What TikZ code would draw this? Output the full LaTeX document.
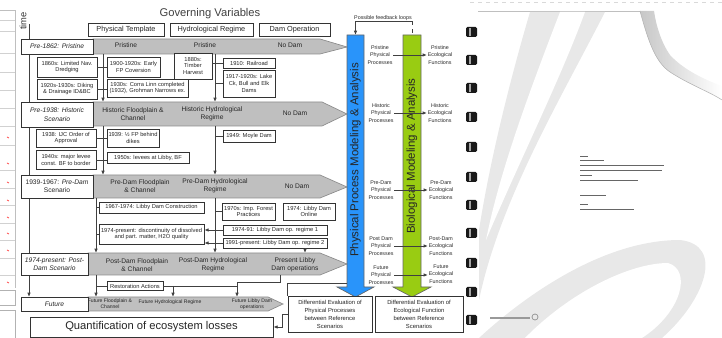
\documentclass[tikz,border=0pt]{standalone}
\usepackage{fontspec}
\setmainfont{Liberation Sans}
\usetikzlibrary{arrows.meta}
\newdimen\px \px=0.75pt
\definecolor{bandgray}{RGB}{191,191,191}
\definecolor{procblue}{RGB}{41,148,250}
\definecolor{biogreen}{RGB}{153,204,18}
\tikzset{
  sz/.style 2 args={minimum width=#1\px,minimum height=#2\px},
  evbox/.style={draw=black!80,fill=white,line width=0.5pt,inner sep=0pt,align=center,text=black!85,font=\fontsize{4.3}{5.1}\selectfont},
  scbox/.style={draw=black!80,fill=white,line width=0.6pt,inner sep=0pt,align=center,text=black!85,font=\fontsize{5}{6.2}\selectfont},
  hdrbox/.style={draw=black!80,fill=white,line width=0.6pt,inner sep=0pt,align=center,text=black!85,font=\fontsize{5.5}{6.5}\selectfont},
  band/.style={fill=bandgray,draw=black!45,line width=0.5pt},
  bandlbl/.style={inner sep=0pt,align=center,text=black!85,font=\fontsize{5}{6}\selectfont},
  futlbl/.style={inner sep=0pt,align=center,text=black!85,font=\fontsize{3.8}{4.6}\selectfont},
  fnlbl/.style={inner sep=0.5pt,align=center,text=black!85,font=\fontsize{4}{5.6}\selectfont},
  difbox/.style={draw=black!80,fill=white,line width=0.6pt,inner sep=0pt,align=center,text=black!85,font=\fontsize{4.4}{6}\selectfont},
  spine/.style={draw=black!75,line width=0.6pt},
  arr/.style={-{Latex[length=3.2pt,width=2.6pt]}},
  procbar/.style={fill=procblue,draw=black!60,line width=0.5pt},
  biobar/.style={fill=biogreen,draw=black!60,line width=0.5pt},
  bartxt/.style={inner sep=0pt,text=black!85,font=\fontsize{8.6}{9}\selectfont},
}
\begin{document}
\begin{tikzpicture}[x=0.75pt,y=0.75pt,yscale=-1]
\useasboundingbox (0,0) rectangle (722,338);

% Left sheet (cut off)
\draw[black!25,line width=0.4pt] (0,10) -- (15,10) -- (15,288);
\foreach \yy in {20,31,53,72,90,108,126,145,170,188,205,223,240,258,275}
  \draw[black!18,line width=0.4pt] (0,\yy) -- (15,\yy);
\foreach \yy in {137,163,182,200,217,233,250,282}
  \draw[red!70,line width=0.6pt] (7,\yy) -- (9,\yy+1);
\draw[black!30,line width=0.4pt] (0,290) -- (15,290) -- (15,305) -- (0,305);
\draw[black!30,line width=0.4pt] (0,310) -- (15,310) -- (15,338);

% Right page with binding
\draw[black!15,dashed,line width=0.4pt] (470,2) -- (722,2);
\draw[black!25,line width=0.5pt] (478,11) -- (640,11);
\fill[black!9] (530,12) .. controls (510,80) and (490,160) .. (479,230) -- (479,300) .. controls (500,200) and (560,100) .. (605,12) -- cycle;
\fill[white] (560,12) .. controls (530,90) and (500,170) .. (486,240) .. controls (520,160) and (560,80) .. (585,12) -- cycle;
\fill[black!9] (479,338) .. controls (520,300) and (600,240) .. (680,240) .. controls (725,245) and (705,300) .. (662,338) -- cycle;
\fill[white] (525,338) .. controls (570,292) and (630,263) .. (668,263) .. controls (692,270) and (682,312) .. (642,338) -- cycle;
\shade[left color=black!22,right color=white] (640,11) .. controls (648,40) and (655,62) .. (670,72) .. controls (690,85) and (710,92) .. (722,100) -- (722,86) .. controls (700,78) and (682,68) .. (670,55) .. controls (661,42) and (656,25) .. (654,11) -- cycle;
\draw[black!30,line width=0.4pt] (640,11) .. controls (648,40) and (655,62) .. (670,72) .. controls (690,85) and (710,92) .. (722,100);
\foreach \yy in {32,60,88,117,147,177,205,233,263,292,320} {
  \fill[black!90,rounded corners=1pt] (466,\yy-5) rectangle (477,\yy+5);
  \fill[black!35] (469,\yy-4) rectangle (470.5,\yy+4);
}
\foreach \yy/\xe in {156/588,160/604,165/664,170/662,175/592,180/638,195/606,204/588,209/634}
  \fill[black!60] (580,\yy) rectangle (\xe,\yy+1.3);
\fill[black!40] (490,317) rectangle (530,319);
\draw[black!45,line width=0.5pt] (535,317) circle (3);

% Title and column headers
\node[inner sep=0pt,text=black!75,font=\fontsize{8.4}{9}\selectfont] (title) at (210,14) {Governing Variables};
\node[hdrbox,sz={76}{13}] (hdrphys) at (126,29.5) {Physical Template};
\node[hdrbox,sz={83}{13}] (hdrhyd) at (211.5,29.5) {Hydrological Regime};
\node[hdrbox,sz={71}{13}] (hdrdam) at (294.5,29.5) {Dam Operation};

% time axis
\node[inner sep=0pt,rotate=90,text=black!80,font=\fontsize{7}{7}\selectfont] (timelbl) at (23,21) {time};
\coordinate (timetop) at (29,24);
\coordinate (timeend) at (29,297);
\draw[spine,arr] (timetop) -- (timeend);

% Scenario bands
\draw[band] (93,39) -- (320,39) -- (347,47) -- (320,54) -- (93,54) -- cycle;
\draw[band] (93,102) -- (322,102) -- (347,114) -- (322,126) -- (93,126) -- cycle;
\draw[band] (93,175) -- (320,175) -- (347,187) -- (320,198) -- (93,198) -- cycle;
\draw[band] (88,253) -- (320,253) -- (347,264) -- (320,275) -- (88,275) -- cycle;
\draw[band] (88,297) -- (268,297) -- (283,304) -- (268,311) -- (88,311) -- cycle;

\node[bandlbl] (pris1) at (126,45) {Pristine};
\node[bandlbl] (pris2) at (205,45) {Pristine};
\node[bandlbl] (nodam1) at (290,45) {No Dam};
\node[bandlbl] (histfp) at (133,114) {Historic Floodplain \&\\Channel};
\node[bandlbl] (histhr) at (212,114) {Historic Hydrological\\Regime};
\node[bandlbl] (nodam2) at (295,113) {No Dam};
\node[bandlbl] (prefp) at (140,186) {Pre-Dam Floodplain\\\& Channel};
\node[bandlbl] (prehr) at (215,186) {Pre-Dam Hydrological\\Regime};
\node[bandlbl] (nodam3) at (297,186) {No Dam};
\node[bandlbl] (postfp) at (137,265) {Post-Dam Floodplain\\\& Channel};
\node[bandlbl] (posthr) at (213,265) {Post-Dam Hydrological\\Regime};
\node[bandlbl] (postdo) at (295,265) {Present Libby\\Dam operations};
\node[futlbl] (futfp) at (110,304) {Future Floodplain \&\\Channel};
\node[futlbl] (futhr) at (170,302) {Future Hydrological Regime};
\node[futlbl] (futdo) at (252,304) {Future Libby Dam\\operations};

% Scenario boxes
\node[scbox,sz={72}{15}] (scpris) at (57,46.5) {\itshape Pre-1862: Pristine};
\node[scbox,sz={72}{25}] (schist) at (57,114.5) {\itshape Pre-1938: Historic\\\itshape Scenario};
\node[scbox,sz={72}{23}] (scpre) at (57,186.5) {1939-1967: \textit{Pre-Dam}\\Scenario};
\node[scbox,sz={67}{22}] (scpost) at (54.5,264) {\itshape 1974-present: Post-\\\itshape Dam Scenario};
\node[scbox,sz={67}{14}] (scfut) at (54.5,304) {\itshape Future};

% spine ends on the bands
\coordinate (f1b) at (103,54);  \coordinate (h1b) at (215,54);
\coordinate (f2t) at (103,102); \coordinate (h2t) at (215,102);
\coordinate (f2b) at (103,126); \coordinate (h2b) at (215,126);
\coordinate (f3t) at (103,175); \coordinate (h3t) at (215,175);
\coordinate (f3b) at (96,198);  \coordinate (h3b) at (215,198);
\coordinate (f4t) at (96,253);  \coordinate (h4t) at (215,253);
\coordinate (d4t) at (305,253);
\coordinate (f4b) at (96,275);  \coordinate (d4b) at (280,275);
\coordinate (f5t) at (96,297);  \coordinate (h5t) at (173,297);
\coordinate (d5t) at (237,297); \coordinate (j45) at (237,282);

\draw[spine,arr] (f1b) -- (f2t);
\draw[spine,arr] (h1b) -- (h2t);
\draw[spine,arr] (f2b) -- (f3t);
\draw[spine,arr] (h2b) -- (h3t);
\draw[spine,arr] (f3b) -- (f4t);
\draw[spine,arr] (h3b) -- (h4t);
\draw[spine,arr] (f4b) -- (f5t);

% Events, pre-1862 to 1938
\node[evbox,sz={60}{20}] (ev1860) at (67,67) {1860s: Limited Nav.\\Dredging};
\node[evbox,sz={60}{20}] (ev1920) at (67,89) {1920s-1930s: Diking\\\& Drainage ID\&BC};
\node[evbox,sz={53}{20}] (ev1900) at (133.5,67) {1900-1920s: Early\\FP Coversion};
\node[evbox,sz={81}{18}] (ev1930) at (147.5,88) {1930s: Corra Linn completed\\(1932), Grohman Narrows ex.};
\node[evbox,sz={38}{26}] (ev1880) at (193,66) {1880s:\\Timber\\Harvest};
\node[evbox,sz={52}{10}] (ev1910) at (249,63) {1910: Railroad};
\node[evbox,sz={52}{27}] (ev1917) at (249,83.5) {1917-1920s: Lake\\Ck, Bull and Elk\\Dams};
\draw[spine] (ev1860.east) -- (ev1900.west);
\draw[spine] (ev1920.east) -- (ev1920.east -| ev1930.west);
\draw[spine] (ev1910.west) -- (ev1910.west -| ev1880.east);
\draw[spine] (ev1917.west) -- (ev1917.west -| h1b);

% Events, 1938 to 1967
\node[evbox,sz={60}{18}] (ev1938) at (66,138) {1938: IJC Order of\\Approval};
\node[evbox,sz={60}{19}] (ev1940) at (66,160) {1940s: major levee\\const. BF to border};
\node[evbox,sz={52}{18}] (ev1939) at (133,138) {1939: ½ FP behind\\dikes};
\node[evbox,sz={82}{11}] (ev1950) at (148,158) {1950s: levees at Libby, BF};
\node[evbox,sz={52}{12}] (ev1949) at (249,136) {1949: Moyle Dam};
\draw[spine] (ev1938.east) -- (ev1939.west);
\draw[spine] (ev1940.east) -- (ev1940.east -| ev1950.west);
\draw[spine] (ev1949.west) -- (ev1949.west -| h2b);

% Events, 1967 to present
\node[evbox,sz={105}{11}] (ev1967) at (151.5,207.5) {1967-1974: Libby Dam Construction};
\node[evbox,sz={105}{20}] (ev1974p) at (151.5,234) {1974-present: discontinuity of dissolved\\and part. matter, H2O quality};
\node[evbox,sz={53}{17}] (ev1970) at (248.5,211.5) {1970s: Imp. Forest\\Practices};
\node[evbox,sz={52}{17}] (ev1974o) at (309,211.5) {1974: Libby Dam\\Online};
\node[evbox,sz={104}{10}] (evreg1) at (275,230) {1974-91: Libby Dam op. regime 1};
\node[evbox,sz={104}{10}] (evreg2) at (275,243) {1991-present: Libby Dam op. regime 2};
\draw[spine] (ev1967.west) -- (ev1967.west -| f3b);
\draw[spine] (ev1974p.west) -- (ev1974p.west -| f3b);
\draw[spine] (ev1970.west) -- (ev1970.west -| h3b);
\draw[spine,arr] (evreg1.west) -- (evreg1.west -| ev1974p.east);
\draw[spine,arr] (evreg2.west) -- (evreg2.west -| ev1974p.east);
\draw[spine,arr] (evreg2.south -| d4t) -- (d4t);

% Events, towards the future
\node[evbox,sz={56}{9}] (evrest) at (135,286) {Restoration Actions};
\draw[spine] (evrest.west) -- (evrest.west -| f4b);
\draw[spine] (evrest.east) -- (evrest.east -| d5t);
\draw[spine,arr] (evrest.east -| h5t) -- (h5t);
\draw[spine,arr] (d4b) |- (j45) -- (d5t);

% Modelling bars
\draw[procbar] (347,35) -- (364,35) -- (364,287) -- (374,287) -- (355.5,297) -- (337,287) -- (347,287) -- cycle;
\draw[biobar] (403,35) -- (421,35) -- (421,287) -- (431,287) -- (412,297) -- (393,287) -- (403,287) -- cycle;
\coordinate (bluetop) at (355.5,35);
\coordinate (greentop) at (412,35);
\coordinate (bluefb) at (347,283);
\node[bartxt,rotate=90] (bluetxt) at (355.5,160) {Physical Process Modeling \& Analysis};
\node[bartxt,rotate=90] (greentxt) at (412,156) {Biological Modeling \& Analysis};

% feedback loops
\node[inner sep=0.5pt,text=black!85,font=\fontsize{4}{4.5}\selectfont] (fbtxt) at (383,18) {Possible feedback loops};
\draw[spine,line width=0.4pt] (bluetop |- fbtxt.south) -- (greentop |- fbtxt.south);
\draw[spine,arr] (bluetop |- fbtxt.south) -- (bluetop);
\draw[spine,dashed,line width=0.4pt] (greentop |- fbtxt.south) -- (greentop);

% Physical processes and ecological functions
\node[fnlbl] (fpphys1) at (380,55) {Pristine\\Physical\\Processes};
\node[fnlbl] (fpeco1) at (440,55) {Pristine\\Ecological\\Functions};
\node[fnlbl] (fpphys2) at (381,113) {Historic\\Physical\\Processes};
\node[fnlbl] (fpeco2) at (440,113) {Historic\\Ecological\\Functions};
\node[fnlbl] (fpphys3) at (381,190) {Pre-Dam\\Physical\\Processes};
\node[fnlbl] (fpeco3) at (441,190) {Pre-Dam\\Ecological\\Functions};
\node[fnlbl] (fpphys4) at (381,246) {Post Dam\\Physical\\Processes};
\node[fnlbl] (fpeco4) at (441,246) {Post-Dam\\Ecological\\Functions};
\node[fnlbl] (fpphys5) at (381,275) {Future\\Physical\\Processes};
\node[fnlbl] (fpeco5) at (441,274) {Future\\Ecological\\Functions};
\foreach \i in {1,...,5}
  \draw[spine,arr] (fpphys\i.east) -- (fpphys\i.east -| fpeco\i.west);

% Evaluation and quantification
\node[difbox,sz={84}{36}] (diffphys) at (330,314) {Differential Evaluation of\\Physical Processes\\between Reference\\Scenarios};
\node[difbox,sz={88}{36}] (diffeco) at (419,314) {Differential Evaluation of\\Ecological Function\\between Reference\\Scenarios};
\node[draw=black!80,fill=white,line width=0.6pt,inner sep=0pt,sz={243}{20},text=black!85,font=\fontsize{8.4}{9}\selectfont] (quant) at (151.5,327) {Quantification of ecosystem losses};
\draw[spine] (bluefb) -| (diffphys.north west);
\draw[spine,arr] (diffphys.west) -- ++(-5,0) |- (quant.east);
\end{tikzpicture}
\end{document}
